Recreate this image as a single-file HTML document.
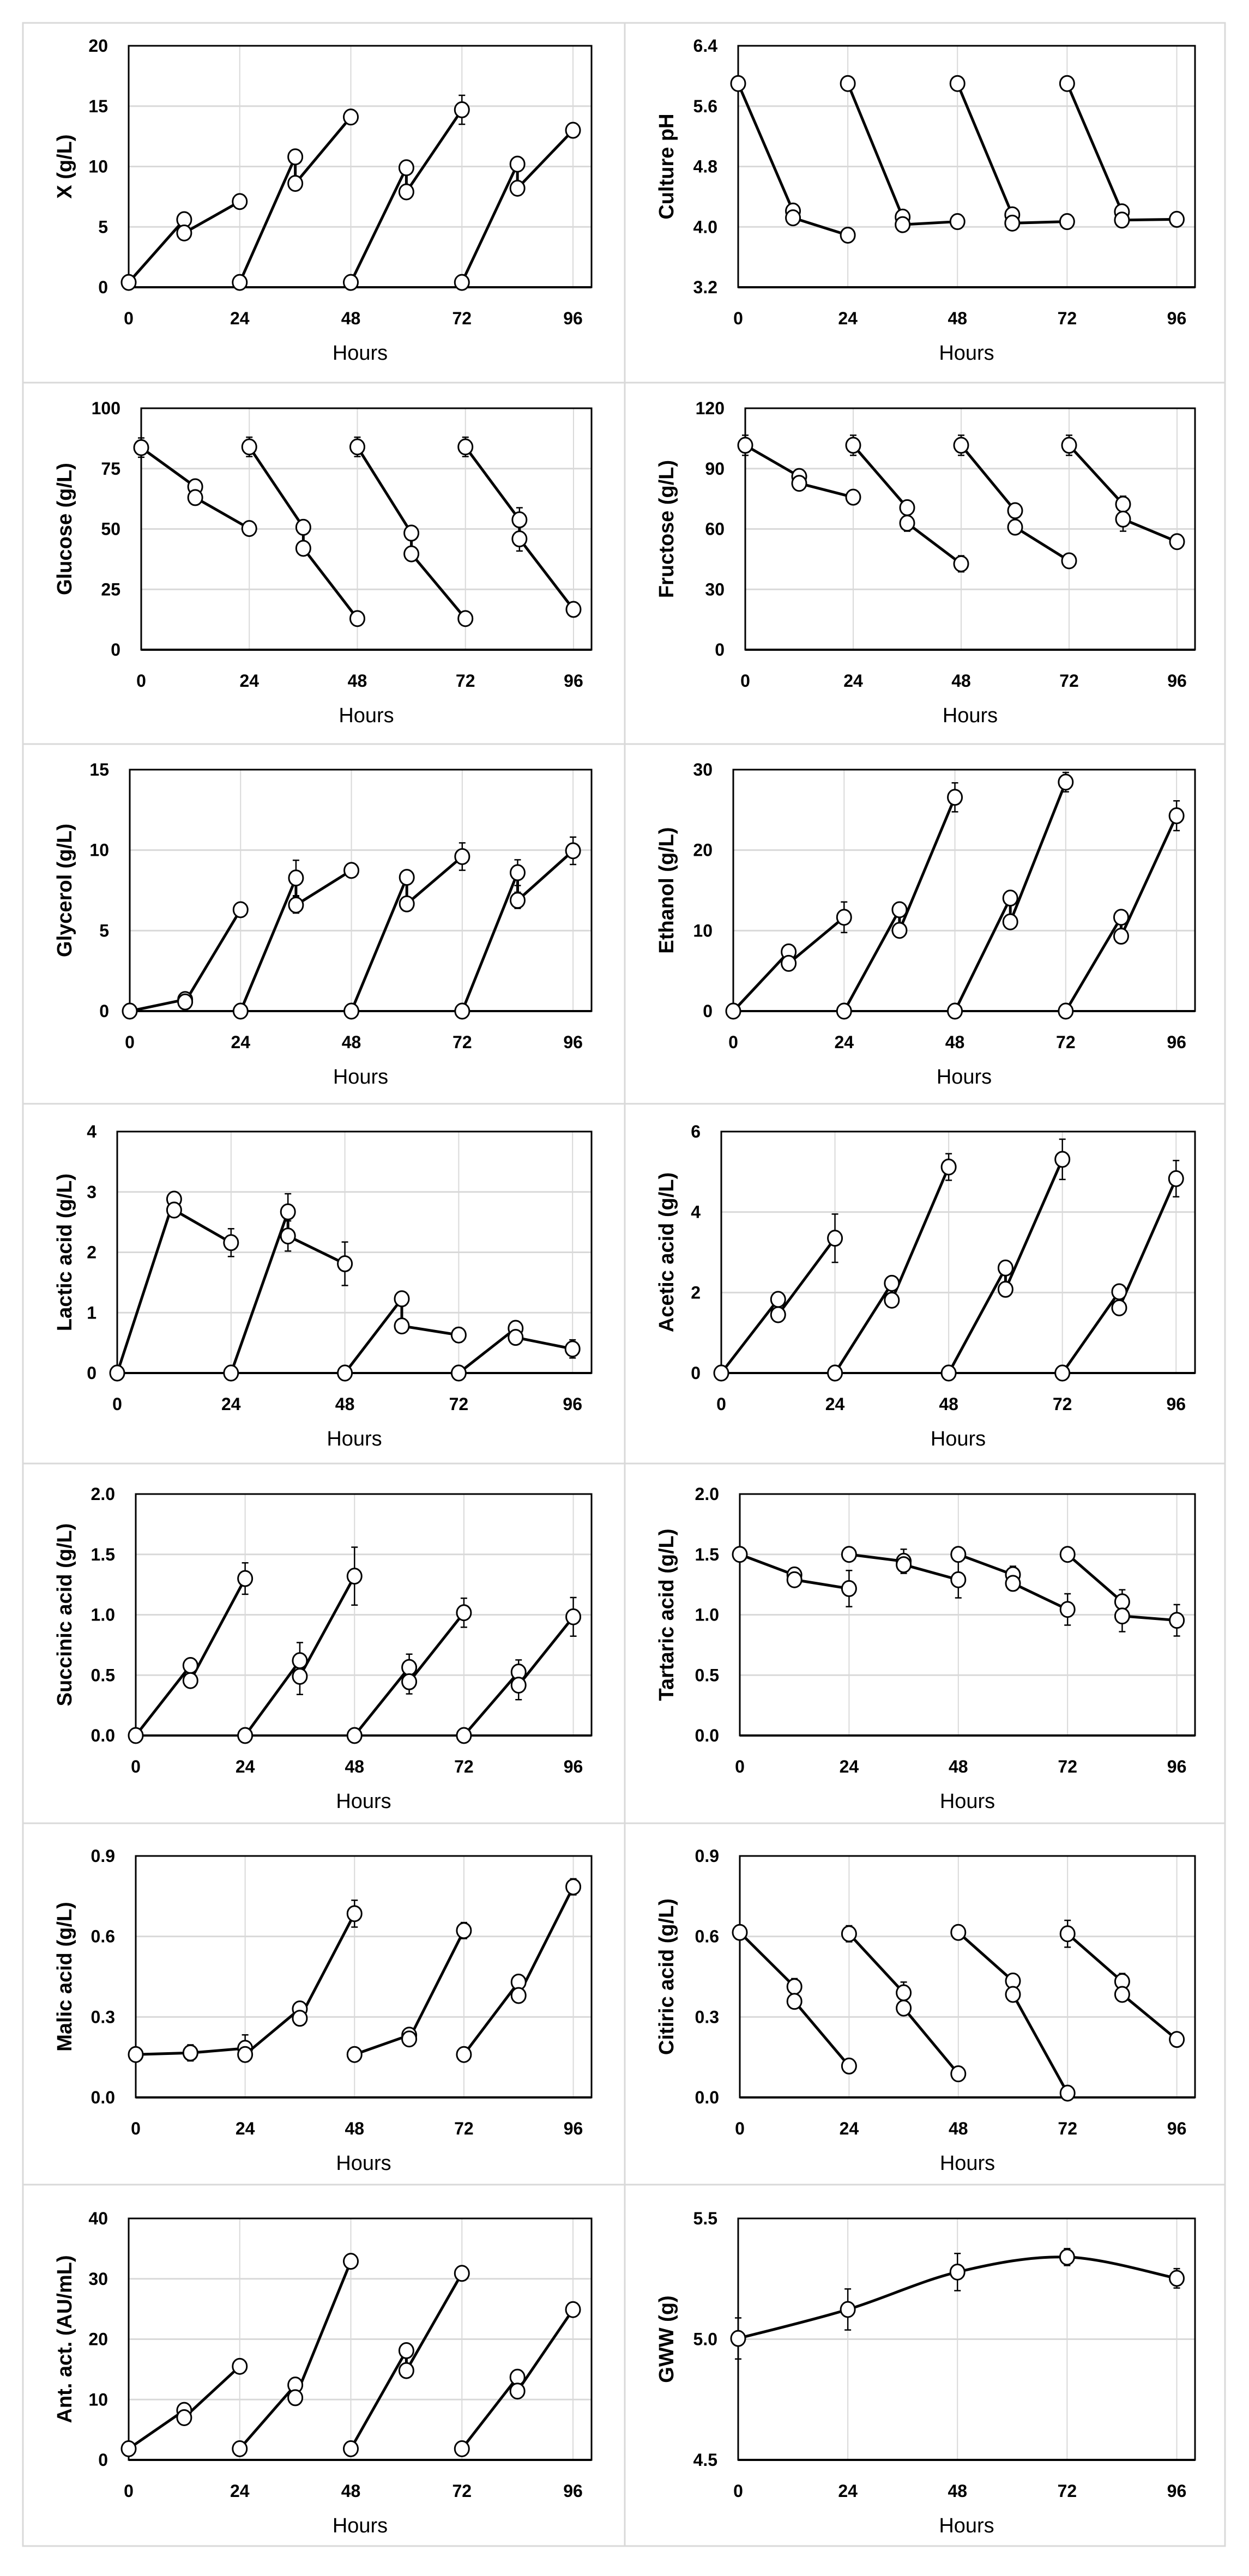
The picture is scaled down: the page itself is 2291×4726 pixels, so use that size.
<!DOCTYPE html>
<html><head><meta charset="utf-8">
<style>
html,body{margin:0;padding:0;background:#fff;}
svg{display:block;}
text{font-family:"Liberation Sans",sans-serif;fill:#000;}
</style></head>
<body>
<svg id="fig" xmlns="http://www.w3.org/2000/svg" width="2291" height="4726" viewBox="0 0 2291 4726"></svg>
<script>
const hoursPattern = [0, 12, 12, 24];
const batchOffsets = [0, 24, 48, 72];
const xTicks = [0, 24, 48, 72, 96];

const biomassValues = [0.4,5.6,4.5,7.1, 0.4,10.8,8.6,14.1, 0.4,9.9,7.9,14.7, 0.4,10.2,8.2,13.0];
const biomassErrors = [0,0,0,0, 0,0,0,0, 0,0,0,1.2, 0,0,0,0];
const phValues = [5.9,4.21,4.12,3.89, 5.9,4.13,4.03,4.07, 5.9,4.16,4.05,4.07, 5.9,4.2,4.09,4.1];
const phErrors = [0,0,0,0, 0,0,0,0, 0,0,0,0, 0,0,0,0];
const glucoseValues = [83.7,67.5,63,50.2, 84,50.7,42,12.9, 84,48.3,39.7,12.9, 84,53.8,45.9,16.7];
const glucoseErrors = [4,0,0,0, 4,0,0,0, 4,0,0,0, 4,5,5,0];
const fructoseValues = [101.6,86.1,82.7,75.8, 101.6,70.6,62.9,42.7, 101.6,69.1,60.9,44.2, 101.6,72.3,64.9,53.7];
const fructoseErrors = [5,0,2,3, 5,3,4,4, 5,0,0,3, 5,4,6,0];
const glycerolValues = [0,0.72,0.57,6.3, 0,8.27,6.59,8.74, 0,8.31,6.66,9.6, 0,8.6,6.88,9.96];
const glycerolErrors = [0,0.3,0,0.3, 0,1.1,0.5,0, 0,0,0,0.85, 0,0.8,0.5,0.85];
const ethanolValues = [0,7.36,5.93,11.66, 0,12.6,10.03,26.56, 0,14.04,11.09,28.45, 0,11.66,9.31,24.27];
const ethanolErrors = [0,0,0,1.9, 0,0,0,1.8, 0,0.6,0.8,1.2, 0,0.6,0.6,1.85];
const lacticValues = [0,2.88,2.7,2.16, 0,2.67,2.27,1.81, 0,1.23,0.78,0.63, 0,0.74,0.59,0.40];
const lacticErrors = [0,0,0,0.23, 0,0.3,0.25,0.36, 0,0,0,0.12, 0,0.12,0.1,0.15];
const aceticValues = [0,1.83,1.45,3.35, 0,2.23,1.81,5.12, 0,2.61,2.08,5.31, 0,2.02,1.62,4.83];
const aceticErrors = [0,0,0,0.6, 0,0,0,0.33, 0,0,0,0.5, 0,0,0,0.45];
const succinicValues = [0,0.58,0.455,1.30, 0,0.62,0.49,1.32, 0,0.564,0.445,1.017, 0,0.526,0.417,0.983];
const succinicErrors = [0,0,0,0.13, 0,0.15,0.15,0.24, 0,0.11,0.1,0.12, 0,0.1,0.12,0.16];
const tartaricValues = [1.5,1.33,1.29,1.217, 1.5,1.443,1.415,1.29, 1.5,1.332,1.26,1.044, 1.5,1.107,0.99,0.954];
const tartaricErrors = [0,0,0,0.15, 0,0.1,0,0.15, 0,0.07,0,0.13, 0,0.1,0.13,0.13];
const malicValues = [0.16,0.166,0.166,0.183, 0.16,0.33,0.295,0.685, 0.16,0.232,0.218,0.622, 0.16,0.43,0.38,0.785];
const malicErrors = [0,0.03,0,0.05, 0,0,0,0.05, 0,0.02,0,0.03, 0,0.02,0,0.03];
const citricValues = [0.615,0.413,0.358,0.117, 0.61,0.39,0.333,0.088, 0.615,0.434,0.384,0.016, 0.61,0.432,0.384,0.216];
const citricErrors = [0,0.03,0,0, 0.03,0.04,0,0, 0,0,0,0, 0.05,0.03,0,0.02];
const antValues = [1.85,8.2,7.0,15.5, 1.85,12.4,10.3,32.9, 1.85,18.1,14.8,30.9, 1.85,13.7,11.4,24.9];
const antErrors = [0,0,0,0, 0,0,0,0, 0,0,0,0, 0,0,0,0];
const gwwHours = [0, 24, 48, 72, 96];
const gwwValues = [5.003, 5.123, 5.278, 5.34, 5.252];
const gwwErrors = [0.085, 0.085, 0.077, 0.035, 0.04];

const tickX = ["0","1","2","3","4","5"];
const biomassTicks = ["0","5","10","15","20"];
const phTicks = ["3.2","4.0","4.8","5.6","6.4"];
const glucoseTicks = ["0","25","50","75","100"];
const fructoseTicks = ["0","30","60","90","120"];
const glycerolTicks = ["0","5","10","15"];
const ethanolTicks = ["0","10","20","30"];
const lacticTicks = ["0","1","2","3","4"];
const aceticTicks = ["0","2","4","6"];
const twoTicks = ["0.0","0.5","1.0","1.5","2.0"];
const nineTicks = ["0.0","0.3","0.6","0.9"];
const antTicks = ["0","10","20","30","40"];
const gwwTicks = ["4.5","5.0","5.5"];

const NS = "http://www.w3.org/2000/svg";
const svg = document.getElementById('fig');
function mk(tag, attrs, parent) {
  const e = document.createElementNS(NS, tag);
  for (const k in attrs) e.setAttribute(k, attrs[k]);
  (parent || svg).appendChild(e);
  return e;
}

// cell grid
const rowLines = [42, 702, 1365, 2025, 2685, 3345, 4008, 4671];
const grid = mk('g', {});


mk('rect', {x: 42, y: 42, width: 2205, height: 4629, fill: 'none', stroke: '#d9d9d9', 'stroke-width': 3}, grid);
mk('line', {x1: 1146, y1: 42, x2: 1146, y2: 4671, stroke: '#d9d9d9', 'stroke-width': 3}, grid);
for (let i = 1; i < rowLines.length - 1; i++) {
  mk('line', {x1: 42, y1: rowLines[i], x2: 2247, y2: rowLines[i], stroke: '#d9d9d9', 'stroke-width': 3}, grid);
}

const rowTops = [84, 749, 1412, 2076, 2741, 3405, 4070];
const PH = 443;

const panels = [
  {id:'biomass', title:'X (g/L)', col:0, row:0, left:236, min:0, max:20, ticks:biomassTicks, v:biomassValues, e:biomassErrors},
  {id:'ph', title:'Culture pH', col:1, row:0, left:1354, min:3.2, max:6.4, ticks:phTicks, v:phValues, e:phErrors},
  {id:'glucose', title:'Glucose (g/L)', col:0, row:1, left:259, min:0, max:100, ticks:glucoseTicks, v:glucoseValues, e:glucoseErrors},
  {id:'fructose', title:'Fructose (g/L)', col:1, row:1, left:1367, min:0, max:120, ticks:fructoseTicks, v:fructoseValues, e:fructoseErrors},
  {id:'glycerol', title:'Glycerol (g/L)', col:0, row:2, left:238, min:0, max:15, ticks:glycerolTicks, v:glycerolValues, e:glycerolErrors},
  {id:'ethanol', title:'Ethanol (g/L)', col:1, row:2, left:1345, min:0, max:30, ticks:ethanolTicks, v:ethanolValues, e:ethanolErrors},
  {id:'lactic', title:'Lactic acid (g/L)', col:0, row:3, left:215, min:0, max:4, ticks:lacticTicks, v:lacticValues, e:lacticErrors},
  {id:'acetic', title:'Acetic acid (g/L)', col:1, row:3, left:1323, min:0, max:6, ticks:aceticTicks, v:aceticValues, e:aceticErrors},
  {id:'succinic', title:'Succinic acid (g/L)', col:0, row:4, left:249, min:0, max:2, ticks:twoTicks, v:succinicValues, e:succinicErrors},
  {id:'tartaric', title:'Tartaric acid (g/L)', col:1, row:4, left:1357, min:0, max:2, ticks:twoTicks, v:tartaricValues, e:tartaricErrors},
  {id:'malic', title:'Malic acid (g/L)', col:0, row:5, left:249, min:0, max:0.9, ticks:nineTicks, v:malicValues, e:malicErrors},
  {id:'citric', title:'Citiric acid (g/L)', col:1, row:5, left:1357, min:0, max:0.9, ticks:nineTicks, v:citricValues, e:citricErrors},
  {id:'ant', title:'Ant. act. (AU/mL)', col:0, row:6, left:236, min:0, max:40, ticks:antTicks, v:antValues, e:antErrors},
  {id:'gww', title:'GWW (g)', col:1, row:6, left:1354, min:4.5, max:5.5, ticks:gwwTicks, gww:true}
];

function drawPanel(p) {
  const g = mk('g', {});
  
  
  const L = p.left, R = p.col === 0 ? 1085 : 2192, T = rowTops[p.row], B = T + PH;
  const xs = h => L + (h / 100) * (R - L);
  const ys = v => B - (v - p.min) / (p.max - p.min) * (B - T);
  // grid
  const nT = p.ticks.length;
  for (let i = 0; i < nT; i++) {
    const val = p.min + i * (p.max - p.min) / (nT - 1);
    const y = ys(val);
    if (i > 0 && i < nT - 1) {
      const gl = mk('line', {x1: L, y1: y, x2: R, y2: y, stroke: '#d9d9d9', 'stroke-width': 3}, g);
      
      
    }
    const t = mk('text', {x: L - 38, y: y + 11, 'text-anchor': 'end', 'font-size': 32, 'font-weight': 'bold'}, g);
    t.textContent = p.ticks[i];
    
    
  }
  for (const h of xTicks) {
    if (h > 0) {
      const vl = mk('line', {x1: xs(h), y1: T, x2: xs(h), y2: B, stroke: '#d9d9d9', 'stroke-width': 2}, g);
      
      
    }
    const t = mk('text', {x: xs(h), y: B + 68, 'text-anchor': 'middle', 'font-size': 32, 'font-weight': 'bold'}, g);
    t.textContent = String(h);
    
    
  }
  const frame = mk('rect', {x: L, y: T, width: R - L, height: B - T, fill: 'none', stroke: '#000', 'stroke-width': 3}, g);
  
  
  const ax = mk('line', {x1: L, y1: B, x2: R, y2: B, stroke: '#000', 'stroke-width': 4}, g);
  
  
  const xt = mk('text', {x: (L + R) / 2, y: B + 133, 'text-anchor': 'middle', 'font-size': 38}, g);
  xt.textContent = 'Hours';
  
  
  const tx = (p.col === 0 ? 42 : 1146) + 77, ty = (T + B) / 2;
  const yt = mk('text', {x: tx, y: ty, transform: 'rotate(-90 ' + tx + ' ' + ty + ')', 'text-anchor': 'middle', 'dominant-baseline': 'central', 'font-size': 38, 'font-weight': 'bold'}, g);
  yt.textContent = p.title;
  
  

  const errBar = (x, v, e) => {
    if (!e) return;
    const y1 = ys(v + e), y2 = ys(v - e);
    const eb = mk('path', {d: `M${x},${y1}V${y2}M${x-6},${y1}H${x+6}M${x-6},${y2}H${x+6}`, stroke: '#000', 'stroke-width': 2.5, fill: 'none'}, g);
    
    
  };
  const marker = (x, v) => {
    const c = mk('ellipse', {cx: x, cy: ys(v), rx: 13, ry: 14, fill: '#fff', stroke: '#000', 'stroke-width': 3}, g);
    
    
  };

  if (p.gww) {
    const pts = gwwHours.map((h, i) => [xs(h), ys(gwwValues[i])]);
    let d = `M${pts[0][0]},${pts[0][1]}`;
    for (let i = 0; i < pts.length - 1; i++) {
      const p0 = pts[Math.max(0, i - 1)], p1 = pts[i], p2 = pts[i + 1], p3 = pts[Math.min(pts.length - 1, i + 2)];
      const c1 = [p1[0] + (p2[0] - p0[0]) / 6, p1[1] + (p2[1] - p0[1]) / 6];
      const c2 = [p2[0] - (p3[0] - p1[0]) / 6, p2[1] - (p3[1] - p1[1]) / 6];
      d += ` C${c1[0]},${c1[1]} ${c2[0]},${c2[1]} ${p2[0]},${p2[1]}`;
    }
    const ln = mk('path', {d: d, fill: 'none', stroke: '#000', 'stroke-width': 5}, g);
    
    
    gwwHours.forEach((h, i) => errBar(xs(h), gwwValues[i], gwwErrors[i]));
    gwwHours.forEach((h, i) => marker(xs(h), gwwValues[i]));
    return;
  }
  batchOffsets.forEach((off, b) => {
    const idx = [0, 1, 2, 3].map(k => b * 4 + k);
    const pts = idx.map((j, k) => [xs(off + hoursPattern[k]), ys(p.v[j])]);
    const ln = mk('polyline', {points: pts.map(q => q.join(',')).join(' '), fill: 'none', stroke: '#000', 'stroke-width': 5, 'stroke-linejoin': 'round'}, g);
    
    
    idx.forEach((j, k) => errBar(xs(off + hoursPattern[k]), p.v[j], p.e[j]));
    idx.forEach((j, k) => marker(xs(off + hoursPattern[k]), p.v[j]));
  });
}
panels.forEach(drawPanel);
</script>
</body></html>
